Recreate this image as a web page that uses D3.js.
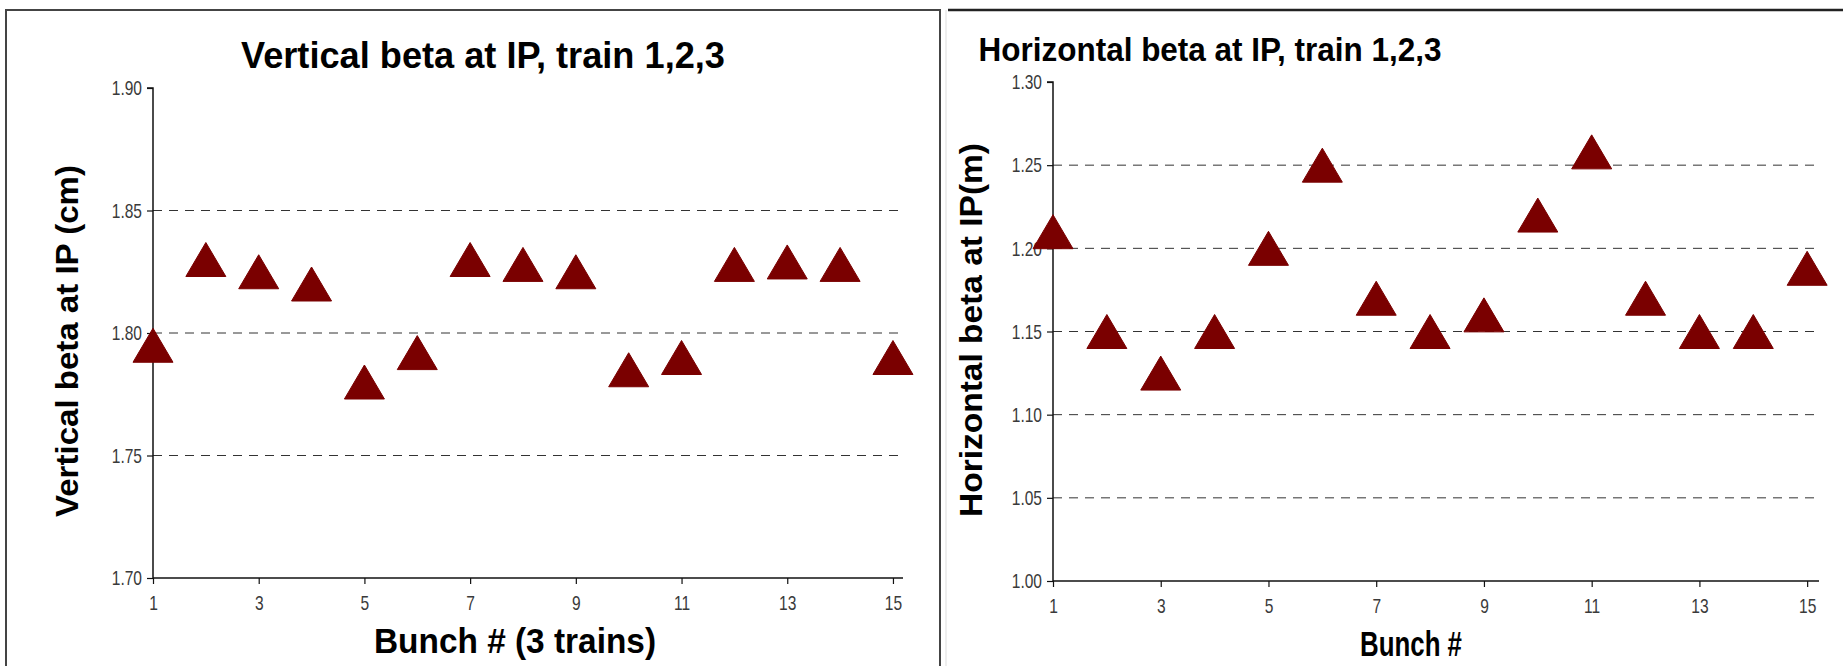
<!DOCTYPE html>
<html><head><meta charset="utf-8">
<script src="https://cdn.jsdelivr.net/npm/d3@7"></script>
<style>html,body{margin:0;padding:0;background:#fff;}svg{display:block;}</style>
</head><body>
<svg id="c" width="1843" height="666"></svg>
<script>
// ---- data ----
const bunches = [1,2,3,4,5,6,7,8,9,10,11,12,13,14,15];
const verticalBeta = [1.795,1.830,1.825,1.820,1.780,1.792,1.830,1.828,1.825,1.785,1.790,1.828,1.829,1.828,1.790];
const horizontalBeta = [1.210,1.150,1.125,1.150,1.200,1.250,1.170,1.150,1.160,1.220,1.258,1.170,1.150,1.150,1.188];
const xTicks = [1,3,5,7,9,11,13,15];
const vTicks = [1.70,1.75,1.80,1.85,1.90];
const hTicks = [1.00,1.05,1.10,1.15,1.20,1.25,1.30];
const vGrid = [1.75,1.80,1.85];
const hGrid = [1.05,1.10,1.15,1.20,1.25];

const svg = d3.select("#c");
const markerColor = "#7a0000";
const FONT = "Liberation Sans, Arial, sans-serif";

// panel frames
svg.append("rect").attr("x",6).attr("y",10).attr("width",934).attr("height",680)
  .attr("fill","none").attr("stroke","#444").attr("stroke-width",2);
svg.append("line").attr("x1",948).attr("x2",1843).attr("y1",10).attr("y2",10)
  .attr("stroke","#222").attr("stroke-width",2.5);
svg.append("line").attr("x1",946).attr("x2",946).attr("y1",10).attr("y2",666)
  .attr("stroke","#ddd").attr("stroke-width",1);

function condense(sel, k){
  sel.each(function(){
    const len = this.getComputedTextLength();
    d3.select(this).attr("textLength", len*k).attr("lengthAdjust","spacingAndGlyphs");
  });
}

function panel(cfg){
  const x = d3.scaleLinear().domain([1, cfg.xMax]).range([cfg.x0, cfg.x1]);
  const y = d3.scaleLinear().domain([cfg.yMin, cfg.yMax]).range([cfg.y1, cfg.y0]);
  const g = svg.append("g");
  // gridlines
  g.selectAll(".grid").data(cfg.grid).join("line")
    .attr("x1",cfg.x0).attr("x2",cfg.x1)
    .attr("y1",d=>y(d)).attr("y2",d=>y(d))
    .attr("stroke","#333").attr("stroke-width",1).attr("stroke-dasharray","9,7");
  // y axis
  const ya = g.append("g").attr("transform",`translate(${cfg.x0},0)`)
    .call(d3.axisLeft(y).tickValues(cfg.yTicks).tickFormat(d3.format(".2f")).tickSize(6).tickPadding(5));
  // x axis
  const xa = g.append("g").attr("transform",`translate(0,${cfg.y1})`)
    .call(d3.axisBottom(x).tickValues(xTicks).tickFormat(d3.format("d")).tickSize(6).tickPadding(11));
  [ya,xa].forEach(a=>{
    a.attr("font-size",21);
    a.select(".domain").attr("stroke","#111").attr("stroke-width",1.5);
    a.selectAll(".tick line").attr("stroke","#111").attr("stroke-width",1.2);
    a.selectAll("text").attr("font-family",FONT)
      .attr("font-size",21).attr("fill","#3a3a3a");
    condense(a.selectAll("text"), 0.74);
  });
  ya.select(".domain").attr("d",`M-6,${cfg.y0}H0V${cfg.y1}`);
  xa.select(".domain").attr("d",`M${cfg.x0},0H${cfg.x1}`);
  // markers (triangles centered on value)
  const w = 40, h = 34;
  g.selectAll(".pt").data(bunches.map((b,i)=>({b, v: cfg.values[i]}))).join("path")
    .attr("d", d=>{
      const cx = x(d.b), cy = y(d.v);
      return `M${cx},${cy-h/2}L${cx+w/2},${cy+h/2}L${cx-w/2},${cy+h/2}Z`;
    })
    .attr("fill",markerColor).attr("stroke",markerColor).attr("stroke-width",1);
  // title
  g.append("text").attr("x",cfg.titleX).attr("y",cfg.titleY).attr("text-anchor","middle")
    .attr("font-family",FONT).attr("font-weight","bold")
    .attr("font-size",cfg.titleSize).attr("textLength",cfg.titleLen).attr("lengthAdjust","spacingAndGlyphs")
    .attr("fill","#000").text(cfg.title);
  // y label
  g.append("text").attr("transform",`translate(${cfg.yLabX},${cfg.yLabY}) rotate(-90)`)
    .attr("text-anchor","middle")
    .attr("font-family",FONT).attr("font-weight","bold")
    .attr("font-size",cfg.yLabSize).attr("textLength",cfg.yLabLen).attr("lengthAdjust","spacingAndGlyphs")
    .attr("fill","#000").text(cfg.yLabel);
  // x label
  g.append("text").attr("x",cfg.xLabX).attr("y",cfg.xLabY).attr("text-anchor","middle")
    .attr("font-family",FONT).attr("font-weight","bold")
    .attr("font-size",cfg.xLabSize).attr("textLength",cfg.xLabLen).attr("lengthAdjust","spacingAndGlyphs")
    .attr("fill","#000").text(cfg.xLabel);
}

panel({
  x0:153, x1:903, xMax:15.19, y0:88, y1:578, yMin:1.70, yMax:1.90,
  yTicks:vTicks, grid:vGrid, values:verticalBeta,
  title:"Vertical beta at IP, train 1,2,3", titleX:483, titleY:68, titleSize:36, titleLen:484,
  yLabel:"Vertical beta at IP (cm)", yLabX:78, yLabY:341, yLabSize:31, yLabLen:352,
  xLabel:"Bunch # (3 trains)", xLabX:515, xLabY:653, xLabSize:35, xLabLen:282
});
panel({
  x0:1053, x1:1819, xMax:15.22, y0:82, y1:581, yMin:1.00, yMax:1.30,
  yTicks:hTicks, grid:hGrid, values:horizontalBeta,
  title:"Horizontal beta at IP, train 1,2,3", titleX:1210, titleY:61, titleSize:34, titleLen:463,
  yLabel:"Horizontal beta at IP(m)", yLabX:982, yLabY:330, yLabSize:31, yLabLen:374,
  xLabel:"Bunch #", xLabX:1411, xLabY:656, xLabSize:35, xLabLen:102
});
</script>
</body></html>
